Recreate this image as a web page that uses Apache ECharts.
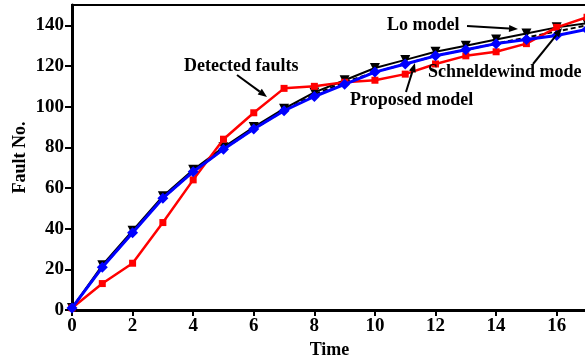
<!DOCTYPE html>
<html>
<head>
<meta charset="utf-8">
<script src="https://cdn.jsdelivr.net/npm/echarts@6/dist/echarts.min.js"></script>
<style>html,body{margin:0;padding:0;background:#fff}#c{width:585px;height:360px}</style>
</head>
<body>
<div id="c"></div>
<script>
var time = [0,1,2,3,4,5,6,7,8,9,10,11,12,13,14,15,16,17];
var detected = [1, 13, 23, 43, 64, 84, 97, 109, 110, 112, 113, 116, 121, 125, 127, 131, 139, 144];
var proposed = [1, 21, 38, 55, 68, 79, 89, 98, 105, 111, 117, 121, 125, 128, 131, 133, 135, 138];
var loModel = [1, 22, 39, 56, 69, 80, 90, 99, 107, 113, 119, 123, 127, 130, 133, 136, 139, 141];
var schneidewind = [1, 21, 38, 55, 68, 79, 89, 98, 106, 112, 117, 121, 125, 128, 131, 134, 137, 140];

function pairs(ys){ return time.map(function(t,i){ return [t, ys[i]]; }); }

var FONT = '"Liberation Serif", "Times New Roman", serif';

function arrow(x1,y1,x2,y2){
  var a = Math.atan2(y2-y1, x2-x1), L = 9, W = 3.5;
  var bx = x2 - L*Math.cos(a), by = y2 - L*Math.sin(a);
  var px = -Math.sin(a)*W, py = Math.cos(a)*W;
  return [
    {type:'line', shape:{x1:x1,y1:y1,x2:bx,y2:by}, style:{stroke:'#000', lineWidth:2}, z:100},
    {type:'polygon', shape:{points:[[x2,y2],[bx+px,by+py],[bx-px,by-py]]}, style:{fill:'#000'}, z:100}
  ];
}
function label(txt, x, y){
  return {type:'text', x:x, y:y, z:100, style:{text:txt, fill:'#000', font:'bold 18px ' + FONT, textVerticalAlign:'middle'}};
}

var graphics = [].concat(
  [label('Detected faults', 184, 66)], arrow(237,75,267,97),
  [label('Lo model', 387, 25)], arrow(467,26,518,29),
  [label('Schneldewind mode', 428, 72)], arrow(533,64,562,28),
  [label('Proposed model', 350, 100)], arrow(406,92,415,63)
);

var chart = echarts.init(document.getElementById('c'), null, {renderer:'canvas'});
chart.setOption({
  animation: false,
  backgroundColor: '#fff',
  grid: {left:72, right:-2, top:5, bottom:50, show:true, borderColor:'#000', borderWidth:2,
         containLabel:false, outerBoundsMode:'none'},
  xAxis: {
    type:'value', min:0, max:17, interval:2,
    name:'Time', nameLocation:'middle', nameGap:31,
    nameTextStyle:{fontFamily:FONT, fontWeight:'bold', fontSize:18, color:'#000'},
    axisLine:{lineStyle:{color:'#000', width:3}},
    axisTick:{length:6, lineStyle:{color:'#000', width:2}},
    axisLabel:{fontFamily:FONT, fontWeight:'bold', fontSize:19, color:'#000', margin:7, showMaxLabel:false},
    splitLine:{show:false}
  },
  yAxis: {
    type:'value', min:0, max:150, interval:20,
    name:'Fault No.', nameLocation:'middle', nameGap:43, nameMoveOverlap:false,
    nameTextStyle:{fontFamily:FONT, fontWeight:'bold', fontSize:18, color:'#000'},
    axisLine:{show:true, lineStyle:{color:'#000', width:3}},
    axisTick:{show:true, length:7, lineStyle:{color:'#000', width:2}},
    axisLabel:{fontFamily:FONT, fontWeight:'bold', fontSize:19, color:'#000', margin:8, showMaxLabel:false},
    splitLine:{show:false}
  },
  series: [
    {type:'line', name:'Lo model', data:pairs(loModel), symbol:'triangle', symbolRotate:180, symbolSize:10,
     lineStyle:{color:'#000', width:2}, itemStyle:{color:'#000'}, z:2},
    {type:'line', name:'Schneidewind model', data:pairs(schneidewind), symbol:'none',
     lineStyle:{color:'#000', width:2, type:[5,3]}, z:3},
    {type:'line', name:'Detected faults', data:pairs(detected), symbol:'rect', symbolSize:7,
     lineStyle:{color:'#ff0000', width:2.5}, itemStyle:{color:'#ff0000'}, z:4},
    {type:'line', name:'Proposed model', data:pairs(proposed), symbol:'diamond', symbolSize:11,
     lineStyle:{color:'#0000ff', width:3}, itemStyle:{color:'#0000ff'}, z:5}
  ],
  graphic: graphics
});
</script>
</body>
</html>
